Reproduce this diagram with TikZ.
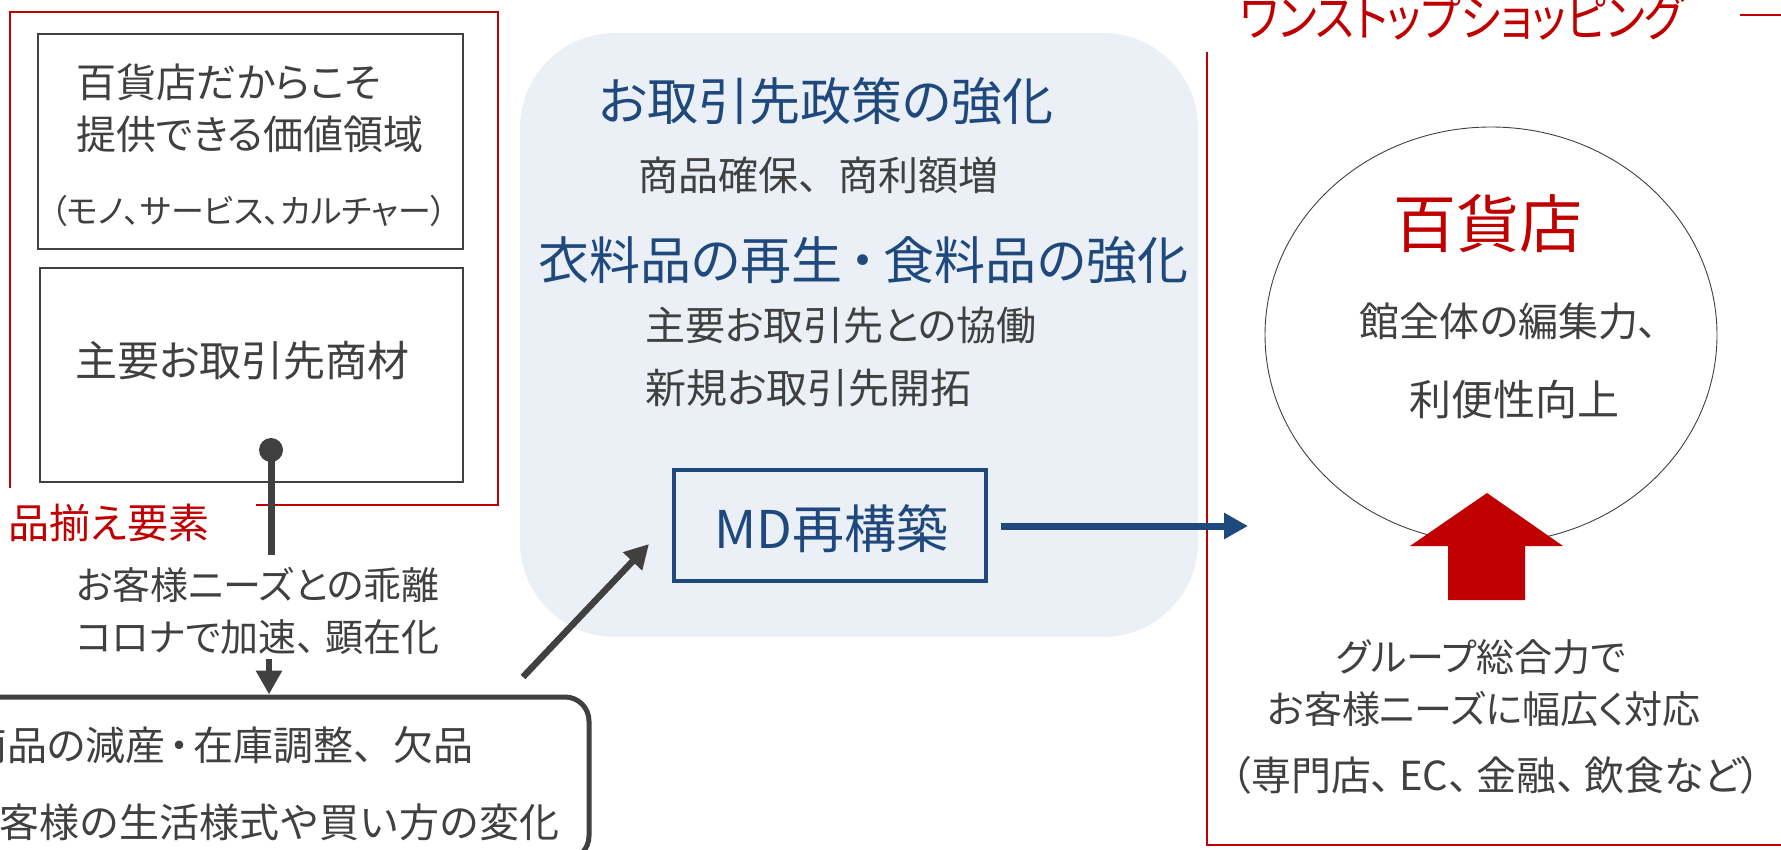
\documentclass[tikz,border=0pt]{standalone}
\usepackage{fontspec}
\usepackage{graphicx}
\newfontfamily\jp{Noto Sans CJK JP}[RawFeature=+palt]
\newfontfamily\jpn{Noto Sans CJK JP}
\usetikzlibrary{arrows.meta,shapes.geometric}
\definecolor{redc}{HTML}{C00000}
\definecolor{txtc}{HTML}{404040}
\definecolor{bluec}{HTML}{1F497D}
\definecolor{panelc}{HTML}{EBF0F7}
\newcommand\jfs[1]{\jp\fontsize{#1}{#1}\selectfont}
\newcommand\jnfs[1]{\jpn\fontsize{#1}{#1}\selectfont}
\begin{document}
\begin{tikzpicture}[x=1pt,y=-1pt,
  lbl/.style={inner sep=0pt, text=txtc},
  graybox/.style={draw=txtc, line width=2.5pt, inner sep=0pt},
  redline/.style={draw=redc, line width=2.5pt},
  arrg/.style={draw=txtc, line width=6.5pt, -{Triangle[length=24pt,width=25pt]}},
  arrb/.style={draw=bluec, line width=7pt, -{Triangle[length=24pt,width=25pt]}},
]
\useasboundingbox (0,0) rectangle (1781,850);
\clip (0,0) rectangle (1781,850);

% ---------- left red frame ----------
\draw[redline] (256,505) -- (498,505) -- (498,12) -- (10,12) -- (10,488);
\node[lbl, text=redc, anchor=base west, font=\jfs{41}] (hinzoroe) at (8,538) {品揃え要素};

% box 1
\node[graybox, minimum width=425pt, minimum height=215pt] (b1) at (250.5,141.5) {};
\node[lbl, anchor=base west, font=\jfs{40}] (b1l1) at (76,98) {百貨店だからこそ};
\node[lbl, anchor=base west, font=\jfs{40}] (b1l2) at (76,150) {提供できる価値領域};
\node[lbl, anchor=base, font=\jfs{33}] (b1l3) at (249,224) {（モノ、サービス、カルチャー）};

% box 2
\node[graybox, minimum width=423pt, minimum height=214pt] (b2) at (251.5,375) {};
\node[lbl, anchor=base west, font=\jfs{42}] (b2t) at (75,377) {主要お取引先商材};

% dot connector
\node[circle, fill=txtc, minimum size=24pt, inner sep=0pt] (dot) at (271,450) {};
\coordinate (c1) at (271,555);
\draw[txtc, line width=7pt] (dot.center) -- (c1);

% middle texts
\node[lbl, anchor=base, font=\jfs{38}] (gap1) at (258,599) {お客様ニーズとの乖離};
\node[lbl, anchor=base, font=\jfs{38}] (gap2) at (258,651) {コロナで加速、\kern10pt顕在化};

% bottom box (cut off)
\node[draw=txtc, line width=5pt, rounded corners=24pt, minimum width=629pt, minimum height=163pt, inner sep=0pt] (bb) at (274.5,778.5) {};
\coordinate (c2) at (269,659);
\draw[arrg] (c2) -- (c2 |- bb.north);
\node[lbl, anchor=base east, font=\jfs{40}] (bbl1) at (474,760) {商品の減産\kern4pt・\kern4pt在庫調整、\kern20pt欠品};
\node[lbl, anchor=base east, font=\jnfs{40}] (bbl2) at (560,837) {お客様の生活様式や買い方の変化};

% ---------- middle panel ----------
\node[fill=panelc, rounded corners=95pt, minimum width=678pt, minimum height=604pt, inner sep=0pt] (panel) at (859,335) {};
\node[lbl, text=bluec, anchor=base west, font=\jfs{51}] (h1) at (598,121) {お取引先政策の強化};
\node[lbl, anchor=base west, font=\jnfs{40}] (g1) at (638,191) {商品確保、商利額増};
\node[lbl, text=bluec, anchor=base west, font=\jfs{51}] (h2) at (538,280) {衣料品の再生\kern8pt・\kern8pt食料品の強化};
\node[lbl, anchor=base west, font=\jfs{40}] (g2) at (645,341) {主要お取引先との協働};
\node[lbl, anchor=base west, font=\jfs{41}] (g3) at (645,403) {新規お取引先開拓};

\node[draw=bluec, line width=4.5pt, minimum width=312pt, minimum height=111pt, inner sep=0pt] (md) at (830,525.5) {};
\node[lbl, text=bluec, anchor=base, font=\jfs{52}] (mdt) at (831,548) {MD再構築};

\coordinate (c3) at (523,677);
\coordinate (c4) at (649,544);
\draw[arrg] (c3) -- (c4);

% ---------- right frame ----------
\draw[redline] (1207,52) -- (1207,845) -- (1790,845);
\draw[redline] (1740,15) -- (1790,15);
\node[lbl, text=redc, anchor=base west, font=\jfs{50}] (one) at (1240,37) {\scalebox{0.86}[1]{ワンストップショッピング}};

\node[ellipse, draw=txtc, line width=0.9pt, minimum width=452pt, minimum height=416pt, inner sep=0pt] (circ) at (1491,335) {};
\node[lbl, text=redc, anchor=base, font=\jfs{63}] (dept) at (1488,248) {百貨店};
\node[lbl, anchor=base, font=\jfs{40}] (c1t) at (1509,337) {館全体の編集力、};
\node[lbl, anchor=base, font=\jfs{42}] (c2t) at (1514,415) {利便性向上};

\coordinate (c5) at (1001,526);
\coordinate (c6) at (1248,526);
\draw[arrb] (c5) -- (c6);

% red block arrow
\fill[redc] (1487,493) -- (1563,546) -- (1525,546) -- (1525,600) -- (1448,600) -- (1448,546) -- (1410,546) -- cycle;

\node[lbl, anchor=base, font=\jfs{38}] (r1) at (1481,671) {グループ総合力で};
\node[lbl, anchor=base, font=\jfs{38}] (r2) at (1484,723) {お客様ニーズに幅広く対応};
\node[lbl, anchor=base, font=\jfs{40}] (r3) at (1496,790) {（専門店、\kern8pt EC、\kern8pt金融、\kern8pt飲食など）};
\end{tikzpicture}
\end{document}
